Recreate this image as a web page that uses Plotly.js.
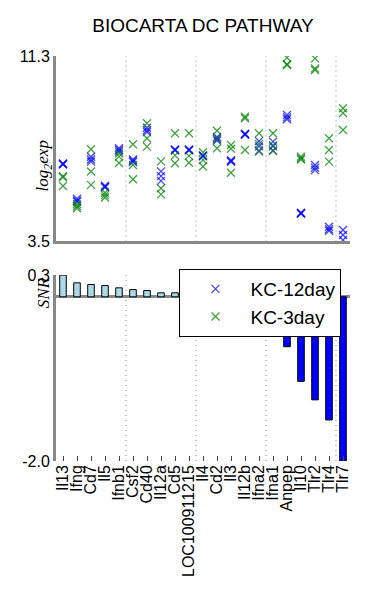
<!DOCTYPE html>
<html>
<head>
<meta charset="utf-8">
<script src="https://cdn.plot.ly/plotly-3.0.1.min.js"></script>
<style>html,body{margin:0;padding:0;background:#fff;}#chart{width:373px;height:600px;}</style>
</head>
<body>
<div id="chart"></div>
<script>
var genes = ["Il13","Ifng","Cd7","Il5","Ifnb1","Csf2","Cd40","Il12a","Cd5","LOC100911215","Il4","Cd2","Il3","Il12b","Ifna2","Ifna1","Anpep","Il10","Tlr2","Tlr4","Tlr7"];

// KC-12day (blue) replicates
var kc12_r1 = [6.78,5.30,7.06,5.85,7.42,6.95,8.28,6.45,7.37,7.37,7.12,7.90,6.92,8.03,7.72,7.70,8.82,4.71,6.72,4.12,3.98];
var kc12_r2 = [6.76,5.22,6.95,5.80,7.35,6.90,8.18,6.25,7.35,7.35,7.10,7.82,6.88,8.01,7.50,7.50,8.72,4.69,6.60,4.02,3.77];
var kc12_r3 = [6.74,5.18,6.86,5.78,7.28,6.84,8.10,6.05,7.33,7.33,7.08,7.75,6.85,7.99,7.32,7.33,8.64,4.67,6.50,3.95,3.56];

// KC-3day (green) replicates
var kc3_r1 = [6.25,5.08,7.38,5.55,7.20,7.59,8.47,6.87,8.05,8.05,7.25,8.16,7.56,8.75,8.05,8.05,11.23,7.07,11.20,7.84,9.10];
var kc3_r2 = [6.20,4.98,6.44,5.45,7.07,6.72,7.84,5.74,7.12,7.10,6.93,7.82,7.40,8.68,7.60,7.55,10.95,7.00,10.78,7.35,8.90];
var kc3_r3 = [5.83,4.90,5.88,5.35,6.80,6.12,7.49,5.48,6.79,6.81,6.65,7.42,6.39,7.35,7.28,7.30,10.92,6.95,10.71,6.86,8.19];

// Signal-to-noise ratio per gene
var snr = [0.27,0.174,0.153,0.14,0.112,0.09,0.078,0.05,0.05,0.03,0.02,-0.02,-0.05,-0.1,-0.15,-0.25,-0.62,-1.05,-1.28,-1.53,-2.04];

var expTicks = [3.5, 11.3];
var expTickText = ["3.5", "11.3"];

function repeatX(n){ var o=[]; for (var k=0;k<n;k++) o = o.concat(genes); return o; }

var BLUE = "#0000ff", GREEN = "#008000";
var FONT = "Liberation Sans, Arial, sans-serif";

var traces = [
  {
    type: "scatter", mode: "markers", name: "KC-12day", legendgroup: "a",
    x: repeatX(3), y: kc12_r1.concat(kc12_r2, kc12_r3),
    xaxis: "x", yaxis: "y",
    marker: {symbol: "x-thin-open", size: 8, color: BLUE, opacity: 0.75, line: {width: 1.3, color: BLUE}}
  },
  {
    type: "scatter", mode: "markers", name: "KC-3day", legendgroup: "b",
    x: repeatX(3), y: kc3_r1.concat(kc3_r2, kc3_r3),
    xaxis: "x", yaxis: "y",
    marker: {symbol: "x-thin-open", size: 8, color: GREEN, opacity: 0.75, line: {width: 1.3, color: GREEN}}
  },
  {
    type: "bar", showlegend: false,
    x: genes, y: snr, xaxis: "x2", yaxis: "y2", width: 0.47,
    marker: {color: snr.map(function(v){ return v >= 0 ? "#add8e6" : "#0000ff"; }), line: {color: "#000", width: 1}}
  }
];

var snrMin = Math.min.apply(null, snr), snrMax = Math.max.apply(null, snr);

var sepPositions = [4.5, 9.5, 14.5, 19.5];
var shapes = [];
sepPositions.forEach(function(p){
  shapes.push({type: "line", xref: "x", yref: "y domain", x0: p, x1: p, y0: 0, y1: 1, line: {color: "#888", width: 1, dash: "1px,4px"}, layer: "below"});
  shapes.push({type: "line", xref: "x2", yref: "y2 domain", x0: p, x1: p, y0: 0, y1: 1, line: {color: "#888", width: 1, dash: "1px,4px"}, layer: "below"});
});

var layout = {
  width: 373, height: 600,
  margin: {l: 56, r: 23, t: 56, b: 139},
  paper_bgcolor: "#fff", plot_bgcolor: "#fff",
  font: {family: FONT, size: 16, color: "#000"},
  title: {text: "BIOCARTA DC PATHWAY", font: {family: FONT, size: 19, color: "#000"}, x: 0.544, xanchor: "center", y: 0.958, yanchor: "middle"},
  showlegend: true,
  legend: {
    x: 0.42, y: 0.474, xanchor: "left", yanchor: "top",
    bgcolor: "#fff", bordercolor: "#000", borderwidth: 1,
    font: {family: FONT, size: 19, color: "#000"},
    itemwidth: 60, tracegroupgap: 0
  },
  xaxis: {
    type: "category", categoryorder: "array", categoryarray: genes,
    range: [-0.5, 20.5], domain: [0, 1], anchor: "y",
    showticklabels: false, ticks: "", showgrid: false, zeroline: false,
    showline: true, linecolor: "#888", linewidth: 3
  },
  yaxis: {
    domain: [0.542, 1], anchor: "x", range: [3.5, 11.3],
    tickmode: "array", tickvals: expTicks, ticktext: expTickText,
    ticks: "inside", ticklen: 4, tickcolor: "#444", showgrid: false, zeroline: false,
    showline: true, linecolor: "#888", linewidth: 3,
    tickfont: {size: 16}
  },
  xaxis2: {
    type: "category", categoryorder: "array", categoryarray: genes,
    tickmode: "array", tickvals: genes, ticktext: genes,
    range: [-0.5, 20.5], domain: [0, 1], anchor: "y2",
    tickangle: -90, ticks: "inside", ticklen: 5, tickcolor: "#444",
    showgrid: false, zeroline: false, showline: false,
    tickfont: {size: 16}
  },
  yaxis2: {
    domain: [0, 0.459], anchor: "x2", range: [snrMin, snrMax],
    tickmode: "array", tickvals: [snrMin, snrMax], ticktext: [snrMin.toFixed(1), snrMax.toFixed(1)],
    ticks: "inside", ticklen: 4, tickcolor: "#444", showgrid: false,
    zeroline: true, zerolinecolor: "#888", zerolinewidth: 3,
    showline: true, linecolor: "#888", linewidth: 3,
    tickfont: {size: 16}
  },
  shapes: shapes,
  annotations: [
    {text: "<i>log</i><sub><i>2</i></sub><i>exp</i>", xref: "paper", yref: "paper", x: -0.04, y: 0.728, xanchor: "center", yanchor: "middle", textangle: -90, showarrow: false, font: {family: "Liberation Serif, DejaVu Serif, serif", size: 17, color: "#000"}},
    {text: "<i>SNR</i>", xref: "paper", yref: "paper", x: -0.04, y: 0.415, xanchor: "center", yanchor: "middle", textangle: -90, showarrow: false, font: {family: "Liberation Serif, DejaVu Serif, serif", size: 17, color: "#000"}}
  ]
};

Plotly.newPlot("chart", traces, layout, {displayModeBar: false, staticPlot: true});
</script>
</body>
</html>
